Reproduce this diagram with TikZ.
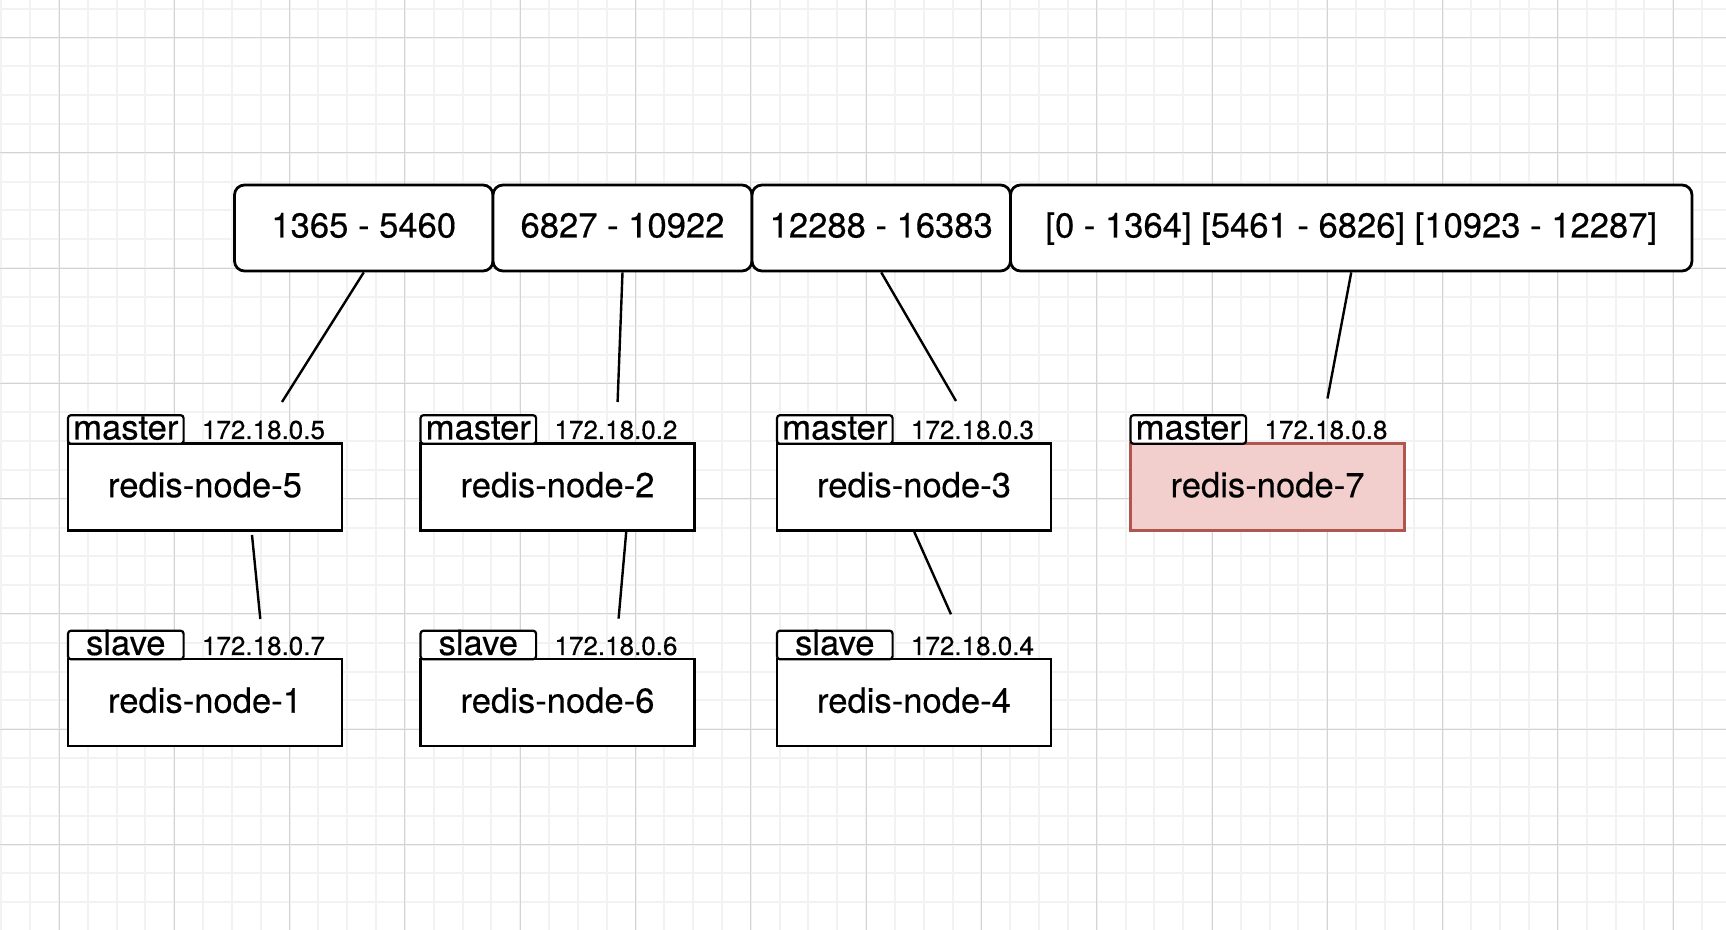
\documentclass[tikz,border=0pt]{standalone}
\usepackage{fontspec}
\setmainfont[FakeBold=0.35]{TeX Gyre Heros}
\definecolor{gridminor}{HTML}{F2F2F2}
\definecolor{gridmajor}{HTML}{D3D3D3}
\definecolor{redfill}{HTML}{F2CFCC}
\definecolor{redline}{HTML}{B0564F}
\tikzset{
  rangebox/.style={draw=black, line width=1.4pt, rounded corners=5pt, fill=white, inner sep=0pt,
    minimum height=43pt, text height=9.5pt, text depth=0pt, font=\fontsize{17.3pt}{20pt}\selectfont},
  nodebox/.style={draw=black, line width=1.4pt, fill=white, inner sep=0pt,
    minimum width=137pt, minimum height=43.5pt, text height=10.2pt, text depth=0pt,
    font=\fontsize{17.3pt}{20pt}\selectfont},
  newbox/.style={nodebox, draw=redline, fill=redfill},
  rolebox/.style={draw=black, line width=1.1pt, rounded corners=1.5pt, fill=white, inner sep=0pt,
    minimum width=57.8pt, minimum height=14.3pt, text height=10pt, text depth=0pt,
    font=\fontsize{17.3pt}{20pt}\selectfont},
  iptext/.style={anchor=base, inner sep=0pt, font=\fontsize{13pt}{15pt}\selectfont},
  link/.style={draw=black, line width=1.2pt},
}
\begin{document}
\begin{tikzpicture}[x=0.5pt,y=-0.5pt]
\useasboundingbox (0,0) rectangle (1726,930);
\fill[white] (0,0) rectangle (1726,930);
% grid
\foreach \i in {0,...,60} {
  \draw[gridminor, line width=1pt] ({1.35+28.825*\i},0) -- ({1.35+28.825*\i},930);
}
\foreach \i in {0,...,33} {
  \draw[gridminor, line width=1pt] (0,{8.7+28.825*\i}) -- (1726,{8.7+28.825*\i});
}
\foreach \i in {0,...,14} {
  \draw[gridmajor, line width=0.5pt] ({59+115.3*\i},0) -- ({59+115.3*\i},930);
}
\foreach \i in {0,...,7} {
  \draw[gridmajor, line width=0.5pt] (0,{37.5+115.3*\i}) -- (1726,{37.5+115.3*\i});
}
% slot ranges
\node[rangebox, minimum width=129.25pt] (r1) at (363.75,228) {1365 - 5460};
\node[rangebox, minimum width=129.5pt] (r2) at (622.5,228) {6827 - 10922};
\node[rangebox, minimum width=129.25pt] (r3) at (881.25,228) {12288 - 16383};
\node[rangebox, minimum width=340.75pt] (r4) at (1351.25,228) {[0 - 1364] [5461 - 6826] [10923 - 12287]};
% masters
\node[nodebox] (n5) at (205,487) {redis-node-5};
\node[nodebox] (n2) at (557.5,487) {redis-node-2};
\node[nodebox] (n3) at (914,487) {redis-node-3};
\node[newbox] (n7) at (1267.5,487) {redis-node-7};
\node[rolebox] (m5) at (125.8,429.5) {master};
\node[rolebox] (m2) at (478.3,429.5) {master};
\node[rolebox] (m3) at (834.8,429.5) {master};
\node[rolebox] (m7) at (1188.3,429.5) {master};
\node[iptext] (ip5) at (263.5,439) {172.18.0.5};
\node[iptext] (ip2) at (616,439) {172.18.0.2};
\node[iptext] (ip3) at (972.5,439) {172.18.0.3};
\node[iptext] (ip7) at (1326,439) {172.18.0.8};
% slaves
\node[nodebox] (n1) at (205,702.5) {redis-node-1};
\node[nodebox] (n6) at (557.5,702.5) {redis-node-6};
\node[nodebox] (n4) at (914,702.5) {redis-node-4};
\node[rolebox] (s1) at (125.8,645) {slave};
\node[rolebox] (s6) at (478.3,645) {slave};
\node[rolebox] (s4) at (834.8,645) {slave};
\node[iptext] (ip1) at (263.5,655) {172.18.0.7};
\node[iptext] (ip6) at (616,655) {172.18.0.6};
\node[iptext] (ip4) at (972.5,655) {172.18.0.4};
% connector ends
\coordinate (t5) at (282,402);
\coordinate (t2) at (617.6,402);
\coordinate (t3) at (956,401);
\coordinate (t7) at (1327.5,398.5);
\coordinate (a5) at (252,535);
\coordinate (b5) at (260.3,619);
\coordinate (a2) at (626.3,531);
\coordinate (b2) at (618.6,618.6);
\coordinate (a3) at (914.3,532);
\coordinate (b3) at (951,614.3);
\draw[link] (r1.south) -- (t5);
\draw[link] (r2.south) -- (t2);
\draw[link] (r3.south) -- (t3);
\draw[link] (r4.south) -- (t7);
\draw[link] (a5) -- (b5);
\draw[link] (a2) -- (b2);
\draw[link] (a3) -- (b3);
\end{tikzpicture}
\end{document}
